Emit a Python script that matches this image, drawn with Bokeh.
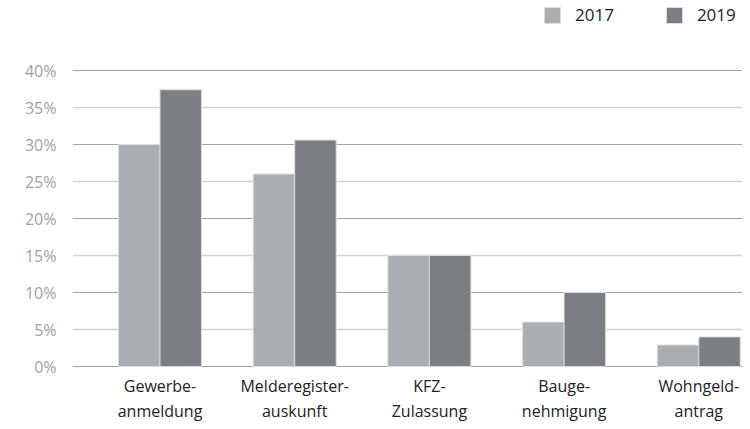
from bokeh.plotting import figure
from bokeh.models import FixedTicker, Grid, Legend, LegendItem, Range1d
from bokeh.embed import file_html
from bokeh.resources import INLINE

categories = ["Gewerbe-\nanmeldung", "Melderegister-\nauskunft", "KFZ-\nZulassung",
              "Bauge-\nnehmigung", "Wohngeld-\nantrag"]
values_2017 = [30, 26, 15, 6, 2.9]
values_2019 = [37.4, 30.6, 15, 10, 4]
series_names = ["2017", "2019"]
y_ticks = [0, 5, 10, 15, 20, 25, 30, 35, 40]
y_tick_labels = ["0%", "5%", "10%", "15%", "20%", "25%", "30%", "35%", "40%"]

c2017 = "#a8aeb1"
c2019 = "#7b7f83"
FONT = "Open Sans"

p = figure(width=742, height=421, output_backend="svg", toolbar_location=None,
           x_range=Range1d(-0.6496, 4.3244), y_range=Range1d(-7.432, 49.46),
           min_border_left=72, min_border_right=0, min_border_top=0, min_border_bottom=0)
p.outline_line_color = None
p.background_fill_color = "white"

xs = list(range(len(categories)))
bw = 0.308
r1 = p.vbar(x=[x - bw / 2 for x in xs], top=values_2017, width=bw, bottom=0,
            fill_color=c2017, line_color="#d9dcdd", line_width=1)
r2 = p.vbar(x=[x + bw / 2 for x in xs], top=values_2019, width=bw, bottom=0,
            fill_color=c2019, line_color="#d9dcdd", line_width=1)

# grids
p.xgrid.grid_line_color = None
p.ygrid.grid_line_color = None
dark = Grid(dimension=1, ticker=FixedTicker(ticks=y_ticks[0::2]),
            grid_line_color="#a2a5a8", grid_line_width=1.2)
light = Grid(dimension=1, ticker=FixedTicker(ticks=y_ticks[1::2]),
             grid_line_color="#d0d3d5", grid_line_width=1.5)
p.renderers.insert(0, dark)
p.renderers.insert(0, light)

# axes
p.yaxis.ticker = FixedTicker(ticks=y_ticks)
p.yaxis.major_label_overrides = {t: l for t, l in zip(y_ticks, y_tick_labels)}
p.yaxis.axis_line_color = None
p.yaxis.major_tick_line_color = None
p.yaxis.minor_tick_line_color = None
p.yaxis.major_label_text_font = FONT
p.yaxis.major_label_text_font_size = "16px"
p.yaxis.major_label_text_color = "#9ea2a6"
p.yaxis.major_label_standoff = 10

p.xaxis.fixed_location = 0
p.xaxis.ticker = FixedTicker(ticks=xs)
p.xaxis.major_label_overrides = {x: c for x, c in zip(xs, categories)}
p.xaxis.axis_line_color = None
p.xaxis.major_tick_line_color = None
p.xaxis.minor_tick_line_color = None
p.xaxis.major_label_text_font = FONT
p.xaxis.major_label_text_font_size = "16px"
p.xaxis.major_label_text_color = "#222222"
p.xaxis.major_label_text_line_height = 1.15
p.xaxis.major_label_standoff = 2

legend = Legend(items=[LegendItem(label=series_names[0], renderers=[r1]),
                       LegendItem(label=series_names[1], renderers=[r2])],
                orientation="horizontal", location=(470, 395),
                glyph_width=20, glyph_height=20, label_standoff=13, spacing=50,
                padding=0, margin=0, border_line_color=None, background_fill_alpha=0,
                label_text_font=FONT, label_text_font_size="17px", label_text_color="#222222")
p.add_layout(legend)

open("out.html", "w").write(file_html(p, INLINE))
